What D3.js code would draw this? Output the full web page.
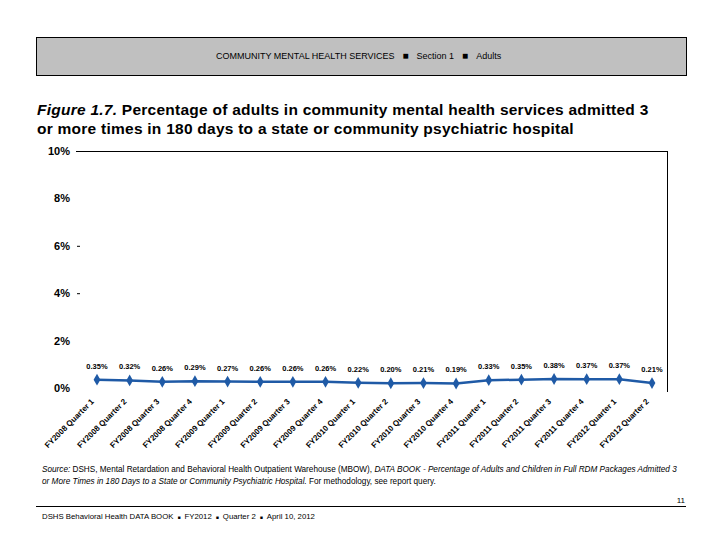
<!DOCTYPE html>
<html><head><meta charset="utf-8">
<script src="https://cdn.jsdelivr.net/npm/d3@7"></script>
<style>body{margin:0;background:#fff}svg{display:block}text{font-family:"Liberation Sans",Arial,sans-serif}</style>
</head><body><svg id="c" width="720" height="540"></svg>
<script>
const categories = ["FY2008 Quarter 1","FY2008 Quarter 2","FY2008 Quarter 3","FY2008 Quarter 4",
"FY2009 Quarter 1","FY2009 Quarter 2","FY2009 Quarter 3","FY2009 Quarter 4",
"FY2010 Quarter 1","FY2010 Quarter 2","FY2010 Quarter 3","FY2010 Quarter 4",
"FY2011 Quarter 1","FY2011 Quarter 2","FY2011 Quarter 3","FY2011 Quarter 4",
"FY2012 Quarter 1","FY2012 Quarter 2"];
const values = [0.35,0.32,0.26,0.29,0.27,0.26,0.26,0.26,0.22,0.20,0.21,0.19,0.33,0.35,0.38,0.37,0.37,0.21];
const yTicks = [0,2,4,6,8,10];

const svg = d3.select("#c");
// header
svg.append("rect").attr("x",36.5).attr("y",37.5).attr("width",650).attr("height",38)
  .attr("fill","#c0c0c0").attr("stroke","#000").attr("stroke-width",1);
const hdr = svg.append("text").attr("x",216).attr("y",59)
  .attr("font-size",9).attr("fill","#000");
hdr.append("tspan").text("COMMUNITY MENTAL HEALTH SERVICES");
hdr.append("tspan").attr("dx",8).attr("font-size",10).text("■");
hdr.append("tspan").attr("dx",8).text("Section 1");
hdr.append("tspan").attr("dx",8).attr("font-size",10).text("■");
hdr.append("tspan").attr("dx",8).text("Adults");

// title
const t1 = svg.append("text").attr("x",37).attr("y",115).attr("font-size",15.5).attr("font-weight","bold").attr("letter-spacing",0.25);
t1.append("tspan").attr("font-style","italic").text("Figure 1.7.");
t1.append("tspan").text("  Percentage of adults in community mental health services admitted 3");
svg.append("text").attr("x",37).attr("y",134).attr("font-size",15.5).attr("font-weight","bold").attr("letter-spacing",0.25)
  .text("or more times in 180 days to a state or community psychiatric hospital");

// chart
const x = d3.scalePoint().domain(categories).range([97,652]);
const y = d3.scaleLinear().domain([0,10]).range([388,151]);

svg.append("line").attr("x1",76).attr("x2",667).attr("y1",y(10)+0.5).attr("y2",y(10)+0.5).attr("stroke","#000");
svg.append("line").attr("x1",667.5).attr("x2",667.5).attr("y1",y(10)).attr("y2",392).attr("stroke","#000");

const yAxis = d3.axisLeft(y).tickValues(yTicks).tickFormat(d=>d+"%").tickSize(0).tickPadding(0);
const ya = svg.append("g").attr("transform","translate(70,0)").call(yAxis);
ya.select(".domain").remove();
ya.selectAll("text").attr("font-size",11).attr("font-weight","bold").attr("fill","#000")
  .attr("font-family","'Liberation Sans',Arial,sans-serif");
svg.selectAll(".dash").data([4,6]).enter().append("line")
  .attr("x1",77).attr("x2",80).attr("y1",d=>y(d)+0.5).attr("y2",d=>y(d)+0.5).attr("stroke","#000");

// x axis labels
const xa = svg.append("g").attr("transform","translate(0,398)")
  .call(d3.axisBottom(x).tickSize(0).tickPadding(0));
xa.select(".domain").remove();
xa.selectAll("text").attr("font-size",8).attr("font-weight","bold").attr("fill","#000")
  .attr("font-family","'Liberation Sans',Arial,sans-serif")
  .attr("text-anchor","end").attr("dy",0)
  .attr("transform","translate(-3,4) rotate(-45)");

// line
const color = "#1f5aa6";
svg.append("path").datum(values.map((v,i)=>[categories[i],v]))
  .attr("fill","none").attr("stroke",color).attr("stroke-width",2.5)
  .attr("d",d3.line().x(d=>x(d[0])).y(d=>y(d[1])));
svg.selectAll(".pt").data(values).enter().append("path")
  .attr("transform",(d,i)=>`translate(${x(categories[i])},${y(d)})`)
  .attr("d",d3.symbol(d3.symbolDiamond,40)).attr("fill",color);
svg.selectAll(".lbl").data(values).enter().append("text")
  .attr("x",(d,i)=>x(categories[i])).attr("y",d=>y(d)-11)
  .attr("text-anchor","middle").attr("font-size",7.5).attr("font-weight","bold")
  .text(d=>d.toFixed(2)+"%");

// source
const s1 = svg.append("text").attr("x",42).attr("y",472).attr("font-size",8.2).attr("font-style","italic");
s1.append("tspan").text("Source: ");
s1.append("tspan").attr("font-style","normal").text("DSHS, Mental Retardation and Behavioral Health Outpatient Warehouse (MBOW), ");
s1.append("tspan").text("DATA BOOK - Percentage of Adults and Children in Full RDM Packages Admitted 3");
const s2 = svg.append("text").attr("x",42).attr("y",484).attr("font-size",8.2).attr("font-style","italic");
s2.append("tspan").text("or More Times in 180 Days to a State or Community Psychiatric Hospital.");
s2.append("tspan").attr("font-style","normal").text("  For methodology, see report query.");

// footer
svg.append("line").attr("x1",36).attr("x2",686).attr("y1",506.5).attr("y2",506.5).attr("stroke","#000");
svg.append("text").attr("x",685).attr("y",503).attr("text-anchor","end").attr("font-size",8).text("11");
const f = svg.append("text").attr("x",42).attr("y",519).attr("font-size",7.8);
f.append("tspan").text("DSHS Behavioral Health DATA BOOK");
f.append("tspan").attr("dx",4).attr("font-size",5).text("■");
f.append("tspan").attr("dx",4).text("FY2012");
f.append("tspan").attr("dx",4).attr("font-size",5).text("■");
f.append("tspan").attr("dx",4).text("Quarter 2");
f.append("tspan").attr("dx",4).attr("font-size",5).text("■");
f.append("tspan").attr("dx",4).text("April 10, 2012");
</script></body></html>
